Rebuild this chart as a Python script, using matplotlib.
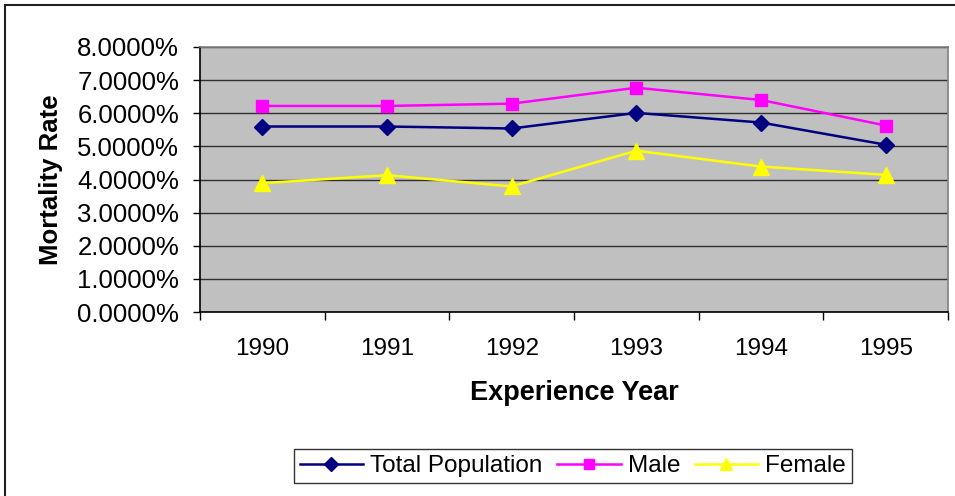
import matplotlib
matplotlib.use("Agg")
import matplotlib.pyplot as plt
from matplotlib.lines import Line2D
from matplotlib.ticker import FixedLocator, FuncFormatter, NullFormatter

plt.rcParams['font.family'] = ['Liberation Sans', 'DejaVu Sans']

years = ["1990", "1991", "1992", "1993", "1994", "1995"]
total_population = [5.60, 5.60, 5.54, 6.01, 5.72, 5.05]
male = [6.22, 6.22, 6.29, 6.77, 6.40, 5.63]
female = [3.89, 4.13, 3.79, 4.87, 4.39, 4.14]
y_ticks = [0, 1, 2, 3, 4, 5, 6, 7, 8]

W, H = 955, 496
fig = plt.figure(figsize=(W / 100, H / 100), dpi=100)
ax = fig.add_axes([200 / W, 1 - 312 / H, 748 / W, 265 / H])
ax.set_facecolor('#C0C0C0')

x = list(range(len(years)))
ax.plot(x, total_population, color='#000080', lw=1.8, marker='D', ms=8.5,
        label='Total Population', zorder=3)
ax.plot(x, male, color='#FF00FF', lw=1.8, marker='s', ms=9,
        label='Male', zorder=3)
ax.plot(x, female, color='#FFFF00', lw=1.8, marker='^', ms=11,
        label='Female', zorder=3)

ax.set_xlim(-0.5, len(years) - 0.5)
ax.set_ylim(0, 8)
ax.yaxis.set_major_locator(FixedLocator(y_ticks))
ax.yaxis.set_major_formatter(FuncFormatter(lambda v, p: f"{v:.4f}%"))
ax.grid(axis='y', color='#303030', lw=1.0)
ax.set_axisbelow(True)

ax.xaxis.set_major_locator(FixedLocator([i - 0.5 for i in range(len(years) + 1)]))
ax.xaxis.set_major_formatter(NullFormatter())
ax.xaxis.set_minor_locator(FixedLocator(x))
ax.set_xticklabels(years, minor=True)
ax.tick_params(axis='x', which='major', length=6, width=1, direction='out', color='black')
ax.tick_params(axis='x', which='minor', length=0, labelsize=17.5, pad=19)
ax.tick_params(axis='y', length=5, width=1, direction='out', labelsize=18.5, pad=10)

for s in ['top', 'right']:
    ax.spines[s].set_color('#808080')
    ax.spines[s].set_linewidth(1.2)
for s in ['left', 'bottom']:
    ax.spines[s].set_color('black')
    ax.spines[s].set_linewidth(1.2)

ax.set_xlabel('Experience Year', fontsize=19.5, fontweight='bold', labelpad=14)
ax.set_ylabel('Mortality Rate', fontsize=18.5, fontweight='bold', labelpad=10)

leg = fig.legend(loc='center', bbox_to_anchor=(573 / W, 1 - 466 / H), ncol=3,
                 fontsize=17.5, frameon=True, fancybox=False, edgecolor='black',
                 handlelength=2.6, handletextpad=0.3, columnspacing=0.6,
                 borderpad=0.25, markerscale=0.85)
leg.get_frame().set_linewidth(1.0)

fig.add_artist(Line2D([5 / W, 1.0], [1 - 5 / H, 1 - 5 / H], color='#202020', lw=1.5,
                      transform=fig.transFigure))
fig.add_artist(Line2D([5 / W, 5 / W], [1 - 5 / H, 0.0], color='#202020', lw=1.5,
                      transform=fig.transFigure))

fig.savefig('out.png', dpi=100)
